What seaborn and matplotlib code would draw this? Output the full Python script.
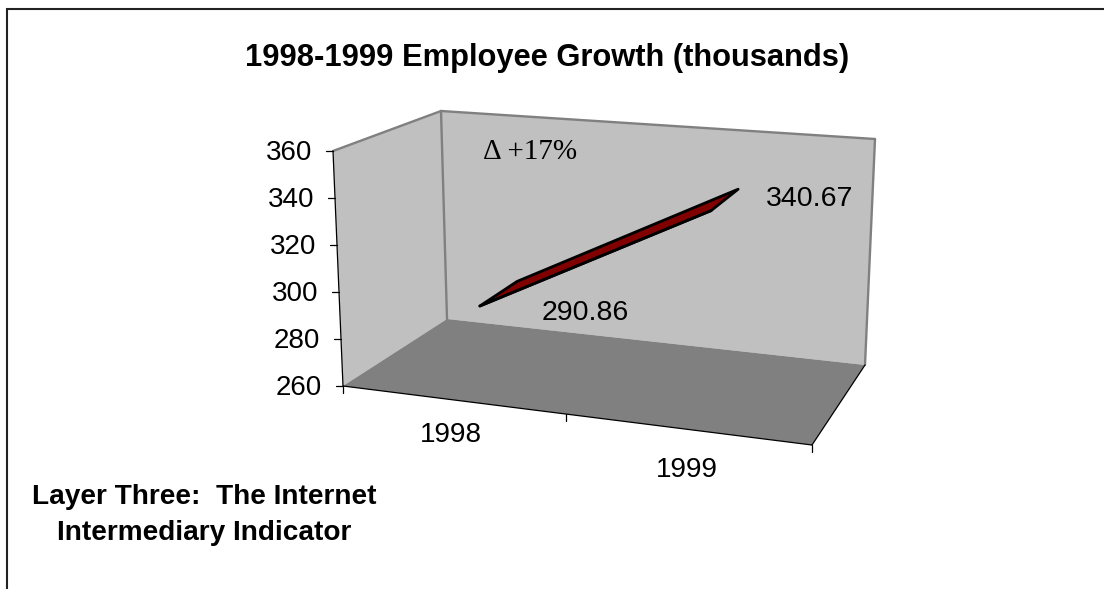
import numpy as np
import pandas as pd
import matplotlib
matplotlib.use("Agg")
import matplotlib.pyplot as plt
import seaborn as sns

years = ["1998", "1999"]
employees = [290.86, 340.67]
value_ticks = [260, 280, 300, 320, 340, 360]
title = "1998-1999 Employee Growth (thousands)"
note = "Layer Three:  The Internet\nIntermediary Indicator"
delta_label = "\u0394 +17%"

sns.set_theme(style="white")
plt.rcParams["font.family"] = ["Liberation Sans", "DejaVu Sans"]

W, H = 1104, 589
fig = plt.figure(figsize=(W / 100, H / 100), dpi=100, facecolor="white")
ax = fig.add_axes([0, 0, 1, 1])
ax.set_xlim(0, W)
ax.set_ylim(H, 0)
ax.axis("off")

# Projection of the 3D chart box: (category, value, depth) -> pixel
C = {
    "fbl": (343, 386), "fbr": (812, 445), "bbl": (447, 319), "bbr": (865, 365),
    "ftl": (333, 151), "btl": (441, 111), "btr": (875, 139), "ftr": (822, 190),
}
C = {k: np.array(v, float) for k, v in C.items()}
VMIN, VMAX = value_ticks[0], value_ticks[-1]
PERSPECTIVE = 1.105


def project(cat, value, depth):
    s = cat / len(years)
    u = s / (s + (1 - s) * PERSPECTIVE)
    v = (value - VMIN) / (VMAX - VMIN)
    front_b = C["fbl"] * (1 - u) + C["fbr"] * u
    back_b = C["bbl"] * (1 - u) + C["bbr"] * u
    front_t = C["ftl"] * (1 - u) + C["ftr"] * u
    back_t = C["btl"] * (1 - u) + C["btr"] * u
    b = front_b * (1 - depth) + back_b * depth
    t = front_t * (1 - depth) + back_t * depth
    return b * (1 - v) + t * v


WALL, FLOOR = "#C0C0C0", "#808080"
ax.fill(*zip(C["ftl"], C["btl"], C["bbl"], C["fbl"]), color=WALL, lw=0, zorder=1)
ax.fill(*zip(C["btl"], C["btr"], C["bbr"], C["bbl"]), color=WALL, lw=0, zorder=1)
ax.fill(*zip(C["fbl"], C["bbl"], C["bbr"], C["fbr"]), color=FLOOR, lw=0, zorder=2)

for a, b in [("ftl", "btl"), ("btl", "btr"), ("btr", "bbr"), ("btl", "bbl")]:
    ax.plot(*zip(C[a], C[b]), color=FLOOR, lw=1.7, zorder=3, solid_capstyle="round")
for a, b in [("ftl", "fbl"), ("fbl", "fbr"), ("fbr", "bbr")]:
    ax.plot(*zip(C[a], C[b]), color="black", lw=0.9, zorder=4)

# Value axis ticks and labels
for val in value_ticks:
    p = project(0, val, 0)
    ax.plot([p[0] - 7, p[0]], [p[1], p[1]], color="black", lw=0.9, zorder=4)
    ax.text(p[0] - 21, p[1] + 2, str(val), ha="right", va="center", fontsize=20, color="black")

# Category axis ticks and labels
for i in range(len(years) + 1):
    p = project(i, VMIN, 0)
    ax.plot([p[0], p[0]], [p[1], p[1] + 7], color="black", lw=0.9, zorder=4)
cat_offsets = [(-1, 35), (1, 41)]
for i, yr in enumerate(years):
    p = project(i + 0.5, VMIN, 0)
    dx, dy = cat_offsets[i]
    ax.text(p[0] + dx, p[1] + dy, yr, ha="center", va="center", fontsize=20, color="black")

# The ribbon series
DEPTH_FRONT, DEPTH_BACK = 0.32, 0.72
front = np.array([project(i + 0.5, v, DEPTH_FRONT) for i, v in enumerate(employees)])
back = np.array([project(i + 0.5, v, DEPTH_BACK) for i, v in enumerate(employees)])
ax.fill(np.r_[front[:, 0], back[::-1, 0]], np.r_[front[:, 1], back[::-1, 1]],
        facecolor="#800000", edgecolor="black", lw=2.0, joinstyle="round", zorder=5)
edges = pd.DataFrame({"x": front[:, 0], "y": front[:, 1], "year": years})
sns.lineplot(data=edges, x="x", y="y", color="black", lw=2.0, sort=False,
             estimator=None, ax=ax, zorder=6)
ax.set_xlim(0, W)
ax.set_ylim(H, 0)
ax.axis("off")

# Value labels
offsets = [(105, 7), (98, -12)]
for pt, val, (dx, dy) in zip(front, employees, offsets):
    ax.text(pt[0] + dx, pt[1] + dy, f"{val:.2f}", ha="center", va="center", fontsize=20.5, color="black")

ax.text(530, 152, delta_label, ha="center", va="center", fontsize=21,
        family=["Liberation Serif", "DejaVu Serif"], color="black")
ax.text(547, 58, title, ha="center", va="center", fontsize=22.2, fontweight="bold", color="black")
ax.text(204, 515, note, ha="center", va="center", fontsize=20.2, fontweight="bold",
        color="black", linespacing=1.55)

# Outer frame (open at the bottom and on the right)
ax.plot([6.5, 6.5, W], [H, 9, 9], color="#222222", lw=1.5, zorder=7,
        solid_joinstyle="miter")

fig.savefig("out.png", dpi=100, facecolor="white")
